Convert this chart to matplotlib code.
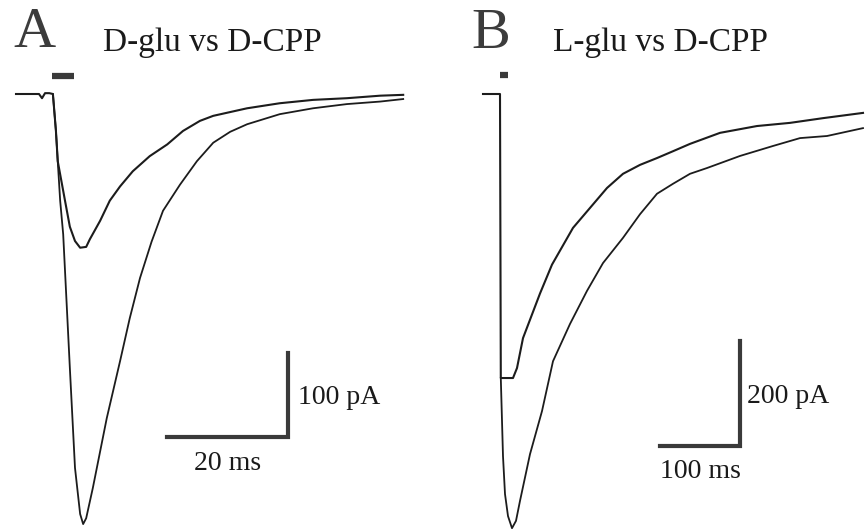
"""
Whole-cell currents: D-glu vs D-CPP (A) and L-glu vs D-CPP (B).
Traces read off the figure, drawn with scale bars instead of axes.
"""
import matplotlib.pyplot as plt

plt.rcParams["font.family"] = ["Liberation Serif", "DejaVu Serif"]

W, H = 865, 529

# ---- panel A (time in ms, current in pA) ----
A_small_t = [0, 3.8, 4.3, 4.8, 5.5, 6.1, 6.6, 6.9, 8.1, 8.9, 9.75, 10.6,
             11.6, 12.2, 13.9, 15.5, 17.2, 19.3, 22.1, 25.0, 27.6, 30.4, 32.6,
             38.2, 43.6, 49.1, 54.7, 60.2, 64.0]
A_small_i = [0, 0, -5, 1, 1, 0, -44, -80, -127, -158, -175, -183,
             -182, -173, -151, -127, -110, -92, -74, -60, -44, -32, -26,
             -17, -11, -7, -5, -2, -1]
A_large_t = [6.1, 6.6, 6.9, 7.3, 7.8, 8.9, 9.75, 10.6, 11.1, 11.6, 12.7, 15.0,
             17.2, 18.8, 20.5, 22.4, 24.3, 27.1, 29.9, 32.6, 35.4, 38.2, 43.6,
             49.1, 54.7, 60.2, 64.0]
A_large_i = [0, -44, -80, -127, -167, -326, -445, -500, -512, -505, -469, -386,
             -318, -267, -219, -176, -139, -108, -80, -58, -45, -36, -24,
             -17, -12, -9, -6]
A_pulse = [5.95, 9.6]        # application bar (ms)

# ---- panel B (time in ms, current in pA) ----
B_small_t = [-3.75, 0, 17.5, 18.5, 21.25, 33.75, 38.75, 46.25, 55, 67.5, 82.5,
             108.75, 130, 151.25, 171.25, 192.5, 213.75, 233.75, 255, 292.5,
             338.75, 380, 421.25, 471.25]
B_small_i = [0, 0, 0, -541, -541, -541, -522, -465, -430, -380, -325,
             -255, -217, -179, -152, -135, -122, -109, -95, -74,
             -61, -55, -46, -36]
B_large_t = [18.5, 21.25, 23.75, 27.5, 32.5, 37.5, 42.5, 55, 70, 83.75, 105,
             126.25, 146.25, 171.25, 192.5, 213.75, 233.75, 255, 276.25, 317.5,
             358.75, 392.5, 426.25, 471.25]
B_large_i = [-541, -690, -762, -804, -827, -813, -775, -686, -604, -509, -438,
             -375, -322, -274, -229, -190, -171, -152, -141, -118,
             -99, -84, -80, -65]
B_pulse = [17.5, 27.5]

# scale bars: (t0, i0, ms, pA)
A_bar = (24.96, -408.0, 20, 100)
B_bar = (217.5, -670.0, 100, 200)

TRACE = "#1c1c1c"
BAR = "#3a3a3a"


def panel(ax, t_small, i_small, t_large, i_large, pulse, pulse_y, bar,
          ms_lab, pa_lab, pa_dx, ms_dy):
    ax.plot(t_small, i_small, color=TRACE, lw=1.5, clip_on=False)
    ax.plot(t_large, i_large, color=TRACE, lw=1.3, clip_on=False)
    ax.plot(pulse, [pulse_y, pulse_y], color=BAR, lw=4.5,
            solid_capstyle="butt")
    t0, i0, dt, di = bar
    ax.plot([t0, t0 + dt, t0 + dt], [i0, i0, i0 + di], color=BAR, lw=3,
            solid_joinstyle="miter", solid_capstyle="projecting")
    ax.text(t0 + dt + pa_dx, i0 + di * 0.47, pa_lab, ha="left", va="center",
            fontsize=20, color="#1a1a1a")
    ax.text(t0 + dt / 2, i0 + ms_dy, ms_lab, ha="center", va="center",
            fontsize=20, color="#1a1a1a")
    ax.axis("off")


fig = plt.figure(figsize=(W / 100, H / 100), dpi=100)

axA = fig.add_axes([0, 0, 430 / W, 1])
axA.set_xlim(-16 / 6.05, 414 / 6.05)
axA.set_ylim(-(H - 94) / 0.84, 94 / 0.84)
panel(axA, A_small_t, A_small_i, A_large_t, A_large_i, A_pulse, 22,
      A_bar, "20 ms", "100 pA", 1.6, -32)

axB = fig.add_axes([440 / W, 0, 425 / W, 1])
axB.set_xlim(-46 / 0.8, 379 / 0.8)
axB.set_ylim(-(H - 94) / 0.525, 94 / 0.525)
panel(axB, B_small_t, B_small_i, B_large_t, B_large_i, B_pulse, 37,
      B_bar, "100 ms", "200 pA", 9, -50)

fig.text(13 / W, 1 - 33 / H, "A", fontsize=42, color="#3c3c3c",
         ha="left", va="center")
fig.text(103 / W, 1 - 43 / H, "D-glu vs D-CPP", fontsize=24,
         color="#1a1a1a", ha="left", va="center")
fig.text(471 / W, 1 - 34 / H, "B", fontsize=42, color="#3c3c3c",
         ha="left", va="center")
fig.text(553 / W, 1 - 43 / H, "L-glu vs D-CPP", fontsize=24,
         color="#1a1a1a", ha="left", va="center")

fig.savefig("out.png", dpi=100)
